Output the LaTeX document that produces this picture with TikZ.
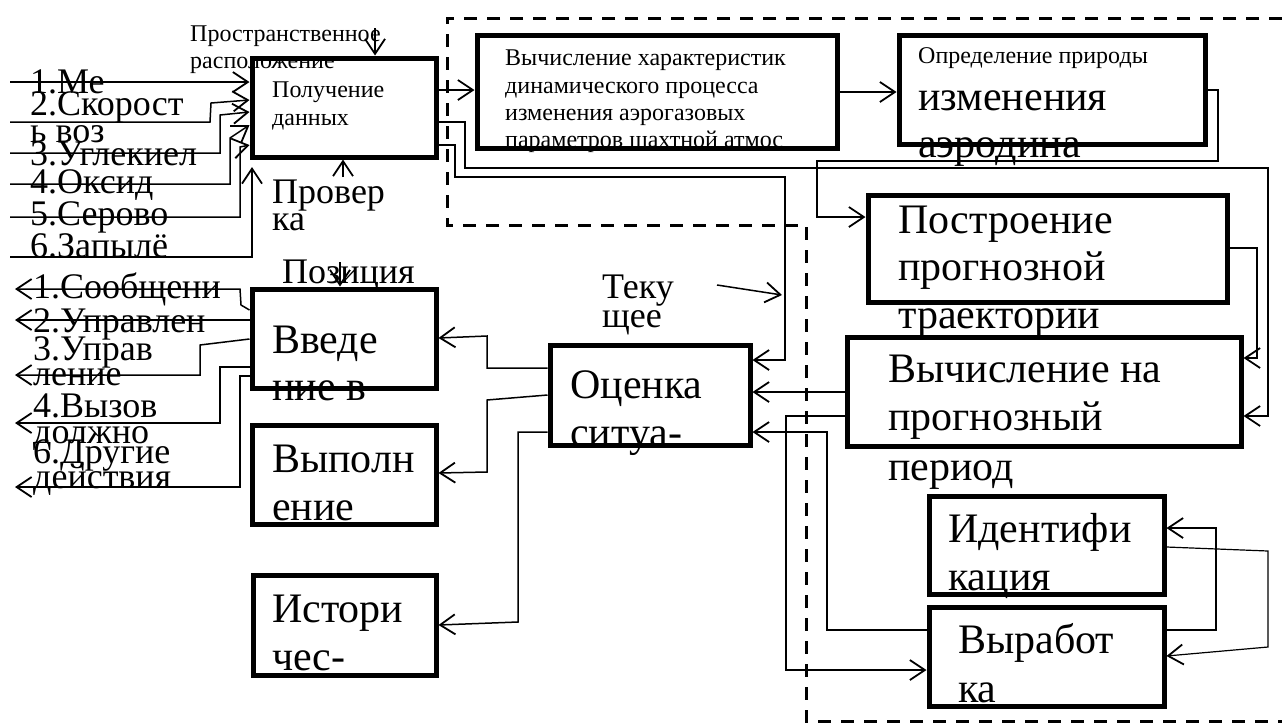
\documentclass[tikz,border=0pt]{standalone}
\usepackage{fontspec}
\setmainfont{Liberation Serif}
\usetikzlibrary{arrows.meta}
\newcommand\fsS{\fontsize{24}{28}\selectfont}
\newcommand\fsM{\fontsize{36}{27}\selectfont}
\newcommand\fsL{\fontsize{42}{47}\selectfont}
\newcommand\tl[4]{\node[txt,font=#3] (#1) at (#2) {#4};}
\tikzset{
 boxst/.style={draw, line width=5pt, inner sep=0pt, rectangle},
 txt/.style={anchor=base west, inner sep=0pt},
 ln/.style={line width=1.5pt},
 thinln/.style={line width=1.2pt},
 arr/.style={-{Straight Barb[length=15pt,width=20pt,line width=1.8pt]}},
 dsh/.style={line width=3pt, dash pattern=on 13pt off 10pt},
}
\begin{document}
\begin{tikzpicture}[x=1pt,y=-1pt]
\fill[white] (0,0) rectangle (1282,724);
\useasboundingbox (0,0) rectangle (1282,724);

% ---------- texts ----------
\tl{t1}{190,41}{\fsS}{Пространственное}
\tl{t2}{190,68}{\fsS}{расположение}
\tl{pt1}{272,97}{\fsS}{Получение}
\tl{pt2}{272,125}{\fsS}{данных}
\tl{i1}{30,93}{\fsM}{1.Ме}
\tl{i2}{30,115}{\fsM}{2.Скорост}
\tl{i2b}{30,142}{\fsM}{ь воз}
\tl{i3}{30,165}{\fsM}{3.Углекиел}
\tl{i4}{30,193}{\fsM}{4.Оксид}
\tl{i5}{30,225}{\fsM}{5.Серово}
\tl{i6}{30,257}{\fsM}{6.Запылё}
\tl{pr1}{272,203}{\fsM}{Провер}
\tl{pr2}{272,230}{\fsM}{ка}
\tl{v1a}{505,65}{\fsS}{Вычисление характеристик}
\tl{v1b}{505,93}{\fsS}{динамического процесса}
\tl{v1c}{505,120}{\fsS}{изменения аэрогазовых}
\tl{v1d}{505,147}{\fsS}{параметров шахтной атмос}
\tl{opa}{918,63}{\fsS}{Определение природы}
\tl{opb}{918,110}{\fsL}{изменения}
\tl{opc}{918,157}{\fsL}{аэродина}
\tl{pra}{898,233}{\fsL}{Построение}
\tl{prb}{898,280}{\fsL}{прогнозной}
\tl{prc}{898,328}{\fsL}{траектории}
\tl{vna}{888,382}{\fsL}{Вычисление на}
\tl{vnb}{888,430}{\fsL}{прогнозный}
\tl{vnc}{888,480}{\fsL}{период}
\tl{ida}{948,542}{\fsL}{Идентифи}
\tl{idb}{948,590}{\fsL}{кация}
\tl{vya}{958,653}{\fsL}{Выработ}
\tl{vyb}{958,702}{\fsL}{ка}
\tl{oa}{570,398}{\fsL}{Оценка}
\tl{ob}{570,446}{\fsL}{ситуа-}
\tl{tka}{602,298}{\fsM}{Теку}
\tl{tkb}{602,327}{\fsM}{щее}
\tl{pzt}{282,283}{\fsM}{Позиция}
\tl{vva}{272,353}{\fsL}{Введе}
\tl{vvb}{272,400}{\fsL}{ние в}
\tl{vpa}{272,472}{\fsL}{Выполн}
\tl{vpb}{272,520}{\fsL}{ение}
\tl{isa}{272,622}{\fsL}{Истори}
\tl{isb}{272,670}{\fsL}{чес-}
\tl{q1}{33,298}{\fsM}{1.Сообщени}
\tl{q2}{33,332}{\fsM}{2.Управлен}
\tl{q3}{33,360}{\fsM}{3.Управ}
\tl{q3b}{33,385}{\fsM}{ление}
\tl{q4}{33,417}{\fsM}{4.Вызов}
\tl{q4b}{33,443}{\fsM}{должно}
\tl{q6}{33,463}{\fsM}{6.Другие}
\tl{q6b}{33,488}{\fsM}{действия}

% ---------- boxes ----------
\node[boxst,minimum width=184pt,minimum height=99pt]  (P)  at (344,107.5) {};
\node[boxst,minimum width=360pt,minimum height=113pt] (V1) at (657,91.5) {};
\node[boxst,minimum width=306pt,minimum height=109pt] (Op) at (1052,89.5) {};
\node[boxst,minimum width=359pt,minimum height=107pt] (Pr) at (1047.5,248.5) {};
\node[boxst,minimum width=394pt,minimum height=109pt] (VN) at (1044,391.5) {};
\node[boxst,minimum width=235pt,minimum height=98pt]  (Id) at (1046.5,545) {};
\node[boxst,minimum width=235pt,minimum height=99pt]  (Vy) at (1046.5,656.5) {};
\node[boxst,minimum width=200pt,minimum height=100pt] (O)  at (650,395) {};
\node[boxst,minimum width=184pt,minimum height=99pt]  (Vv) at (344,338.5) {};
\node[boxst,minimum width=184pt,minimum height=99pt]  (Vp) at (344,474.5) {};
\node[boxst,minimum width=183pt,minimum height=100pt] (Is) at (344.5,625) {};

% ---------- dashed region ----------
\draw[dsh] (1282,18) -- (447,18) -- (447,225) -- (806,225) -- (806,721) -- (1282,721);

% ---------- free ends ----------
\coordinate (in1) at (10,82);
\coordinate (in2) at (10,122);
\coordinate (in3) at (10,153);
\coordinate (in4) at (10,184);
\coordinate (in5) at (10,217);
\coordinate (in6) at (10,257);
\coordinate (c6) at (252,167);
\coordinate (ptop) at (375,28);
\coordinate (pchk) at (343,177);
\coordinate (tk1) at (717,285);
\coordinate (tk2) at (782,295);
\coordinate (pz) at (340,262);
\coordinate (o1) at (15,289);
\coordinate (o2) at (15,320);
\coordinate (o3) at (15,375);
\coordinate (o4) at (15,423);
\coordinate (o5) at (15,487);

% ---------- inputs ----------
\draw[ln,arr] (in1) -- (P.west |- 0,82);
\draw[ln,arr] (in2) -- (210,122) -- (211,103) -- (P.west |- 0,100);
\draw[ln,arr] (in3) -- (220,153) -- (220,115) -- (P.west |- 0,112);
\draw[ln,arr] (in4) -- (230,184) -- (230,138) -- (P.west |- 0,125);
\draw[ln,arr] (in5) -- (240,217) -- (240,147) -- (P.west |- 0,145);
\draw[ln,arr] (in6) -- (252,257) -- (c6);
\draw[ln,arr] (ptop) -- (ptop |- P.north);
\draw[ln,arr] (pchk) -- (pchk |- P.south);

% ---------- connectors ----------
\draw[ln,arr] (P.east |- 0,90) -- (V1.west |- 0,90);
\draw[thinln,arr] (P.east |- 0,122) -- (465,122) -- (465,168) -- (1268,168) -- (1268,416) -- (VN.east |- 0,416);
\draw[thinln,arr] (P.east |- 0,145) -- (455,145) -- (455,177) -- (785,177) -- (785,360) -- (O.east |- 0,360);
\draw[ln,arr] (V1.east |- 0,92) -- (Op.west |- 0,92);
\draw[thinln,arr] (Op.east |- 0,90) -- (1218,90) -- (1218,161) -- (817,161) -- (817,217) -- (Pr.west |- 0,217);
\draw[thinln,arr] (Pr.east |- 0,248) -- (1257,248) -- (1257,358) -- (VN.east |- 0,358);
\draw[ln,arr] (VN.west |- 0,392) -- (O.east |- 0,392);
\draw[thinln,arr] (VN.west |- 0,416) -- (786,416) -- (786,670) -- (Vy.west |- 0,670);
\draw[thinln,arr] (Vy.west |- 0,630) -- (827,630) -- (827,432) -- (O.east |- 0,432);
\draw[thinln,arr] (Vy.east |- 0,630) -- (1216,630) -- (1216,528) -- (Id.east |- 0,528);
\draw[thinln,arr] (Id.east |- 0,547) -- (1268,551) -- (1268,647) -- (Vy.east |- 0,656);
\draw[ln,arr] (O.west |- 0,368) -- (487,368) -- (487,336) -- (Vv.east |- 0,338);
\draw[ln,arr] (O.west |- 0,395) -- (487,400) -- (487,472) -- (Vp.east |- 0,473);
\draw[ln,arr] (O.west |- 0,432) -- (518,432) -- (518,622) -- (Is.east |- 0,625);
\draw[ln,arr] (tk1) -- (tk2);
\draw[ln,arr] (pz) -- (pz |- Vv.north);

% ---------- outputs ----------
\draw[ln,arr] (Vv.west |- 0,310) -- (241,305) -- (240,289) -- (o1);
\draw[ln,arr] (Vv.west |- 0,320) -- (o2);
\draw[ln,arr] (Vv.west |- 0,339) -- (200,345) -- (200,375) -- (o3);
\draw[ln,arr] (Vv.west |- 0,367) -- (220,367) -- (220,423) -- (o4);
\draw[ln,arr] (Vv.west |- 0,376) -- (240,376) -- (240,487) -- (o5);
\end{tikzpicture}
\end{document}
